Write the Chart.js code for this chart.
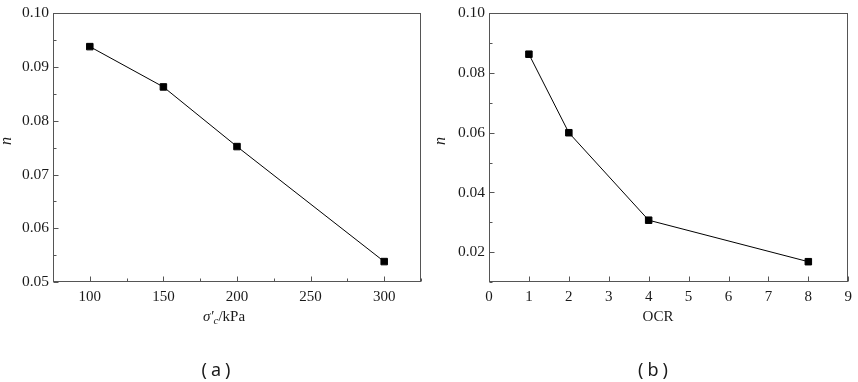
<!DOCTYPE html>
<html>
<head>
<meta charset="utf-8">
<script src="https://cdn.jsdelivr.net/npm/chart.js@4.4.1/dist/chart.umd.min.js"></script>
<style>
  html, body { margin: 0; padding: 0; background: #fff; }
  #wrap { position: relative; width: 858px; height: 382px; }
  canvas { position: absolute; top: 0; }
</style>
</head>
<body>
<div id="wrap">
  <canvas id="chartA" width="430" height="382" style="left:0px"></canvas>
  <canvas id="chartB" width="428" height="382" style="left:430px"></canvas>
</div>
<script>
// (a) n against consolidation stress
const stressLevels = [100, 150, 200, 300];
const nStress = [0.0938, 0.0863, 0.0752, 0.0538];

// (b) n against OCR
const ocrLevels = [1, 2, 4, 8];
const nOcr = [0.0863, 0.0600, 0.0307, 0.0168];

const frameColor = '#555';
const textColor = '#1a1a1a';
const serif = '"Liberation Serif", serif';
const sans = '"Noto Sans", sans-serif';

function toPoints(xs, ys) {
    return xs.map((x, i) => ({ x: x, y: ys[i] }));
}

// inward tick marks, boxed frame and all titles
const decorations = {
    id: 'decorations',
    afterDraw(chart, args, opts) {
        const ctx = chart.ctx;
        const a = chart.chartArea;
        const L = Math.round(a.left) + 0.5, R = Math.round(a.right) - 0.5;
        const T = Math.round(a.top) + 0.5, B = Math.round(a.bottom) - 0.5;
        ctx.save();
        ctx.strokeStyle = frameColor;
        ctx.lineWidth = 1;
        ctx.beginPath();
        chart.scales.x.ticks.forEach(t => {
            const px = Math.round(chart.scales.x.getPixelForValue(t.value)) + 0.5;
            const len = t.label === '' ? 3 : 5;
            ctx.moveTo(px, B);
            ctx.lineTo(px, B - len);
        });
        chart.scales.y.ticks.forEach(t => {
            const py = Math.round(chart.scales.y.getPixelForValue(t.value)) + 0.5;
            const len = t.label === '' ? 3 : 5;
            ctx.moveTo(L, py);
            ctx.lineTo(L + len, py);
        });
        ctx.stroke();
        ctx.strokeRect(L, T, R - L, B - T);

        ctx.fillStyle = textColor;
        // y title
        ctx.save();
        ctx.translate(opts.yTitleX, opts.yTitleY);
        ctx.rotate(-Math.PI / 2);
        ctx.font = 'italic 16px ' + serif;
        ctx.textAlign = 'center';
        ctx.textBaseline = 'middle';
        ctx.fillText('n', 0, 0);
        ctx.restore();

        // x title pieces
        ctx.textBaseline = 'alphabetic';
        ctx.textAlign = 'left';
        let total = 0;
        opts.xTitle.forEach(p => {
            ctx.font = p.font;
            total += ctx.measureText(p.text).width;
        });
        let x = opts.xTitleX - total / 2;
        opts.xTitle.forEach(p => {
            ctx.font = p.font;
            ctx.fillText(p.text, x, opts.xTitleY + (p.dy || 0));
            x += ctx.measureText(p.text).width;
        });

        // caption, spaced out like the wide brackets in the source
        ctx.font = '18px ' + sans;
        ctx.letterSpacing = '4px';
        ctx.textAlign = 'center';
        ctx.textBaseline = 'middle';
        ctx.fillText(opts.caption, opts.captionX + 2, opts.captionY);
        ctx.restore();
    }
};

function makeChart(id, xs, ys, cfg) {
    return new Chart(document.getElementById(id), {
        type: 'line',
        data: {
            datasets: [{
                data: toPoints(xs, ys),
                borderColor: '#000',
                borderWidth: 1,
                backgroundColor: '#000',
                pointStyle: 'rect',
                pointRadius: 4.6,
                pointBorderWidth: 1,
                pointBorderColor: '#000',
                tension: 0,
                fill: false
            }]
        },
        options: {
            responsive: false,
            animation: false,
            devicePixelRatio: 1,
            layout: { padding: cfg.padding },
            plugins: {
                legend: { display: false },
                tooltip: { enabled: false },
                decorations: cfg.deco
            },
            scales: {
                x: {
                    type: 'linear',
                    min: cfg.xMin, max: cfg.xMax,
                    afterFit: s => { s.height = cfg.xHeight; },
                    grid: { display: false, drawTicks: false },
                    border: { display: false },
                    ticks: {
                        stepSize: cfg.xStep,
                        autoSkip: false,
                        maxRotation: 0,
                        padding: 6,
                        color: textColor,
                        font: { family: serif, size: 15 },
                        callback: cfg.xLabel
                    }
                },
                y: {
                    min: cfg.yMin, max: cfg.yMax,
                    afterFit: s => { s.width = cfg.yWidth; },
                    grid: { display: false, drawTicks: false },
                    border: { display: false },
                    ticks: {
                        stepSize: cfg.yStep,
                        autoSkip: false,
                        padding: 4,
                        color: textColor,
                        font: { family: serif, size: 15.5 },
                        callback: cfg.yLabel
                    }
                }
            }
        },
        plugins: [decorations]
    });
}

makeChart('chartA', stressLevels, nStress, {
    padding: { top: 8, right: 9, left: 0, bottom: 0 },
    xMin: 75, xMax: 325, xStep: 25, xHeight: 100,
    yMin: 0.05, yMax: 0.10, yStep: 0.005, yWidth: 53,
    xLabel: v => (Math.round(v) % 50 === 0 ? String(Math.round(v)) : ''),
    yLabel: v => (Math.round(v * 1000) % 10 === 0 ? v.toFixed(2) : ''),
    deco: {
        yTitleX: 7, yTitleY: 141,
        xTitleX: 224, xTitleY: 321,
        xTitle: [
            { text: 'σ′', font: 'italic 15px ' + serif },
            { text: 'c', font: 'italic 11px ' + serif, dy: 3 },
            { text: '/kPa', font: '15px ' + serif }
        ],
        caption: '(a)', captionX: 216, captionY: 371
    }
});

makeChart('chartB', ocrLevels, nOcr, {
    padding: { top: 8, right: 7, left: 0, bottom: 0 },
    xMin: 0, xMax: 9, xStep: 1, xHeight: 100,
    yMin: 0.01, yMax: 0.10, yStep: 0.01, yWidth: 59,
    xLabel: v => String(Math.round(v)),
    yLabel: v => (Math.round(v * 100) % 2 === 0 ? v.toFixed(2) : ''),
    deco: {
        yTitleX: 11, yTitleY: 141,
        xTitleX: 228, xTitleY: 321,
        xTitle: [
            { text: 'OCR', font: '15px ' + serif }
        ],
        caption: '(b)', captionX: 223, captionY: 371
    }
});
</script>
</body>
</html>
